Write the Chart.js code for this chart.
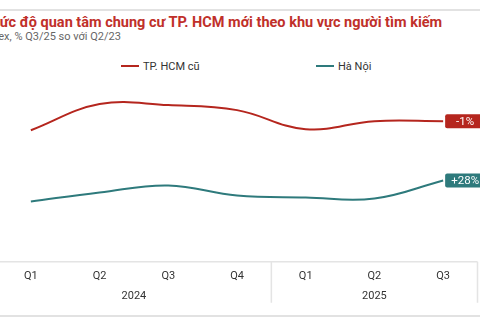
<!DOCTYPE html>
<html>
<head>
<meta charset="utf-8">
<script src="https://cdn.jsdelivr.net/npm/chart.js@4/dist/chart.umd.min.js"></script>
<style>
  html, body { margin: 0; padding: 0; background: #fff; overflow: hidden; }
  body { width: 480px; height: 320px; position: relative; font-family: Roboto, "Noto Sans", sans-serif; }
  .topline { position: absolute; left: 0; top: 9px; width: 480px; height: 2px; background: #e2e2e2; }
  .botline { position: absolute; left: 0; top: 315px; width: 480px; height: 2px; background: #e2e2e2; }
  .title { position: absolute; left: -13px; top: 14px; white-space: nowrap; font-size: 14.5px; font-weight: bold; color: #c0302a; }
  .subtitle { position: absolute; left: -17px; top: 30px; white-space: nowrap; font-size: 11px; color: #666; }
  .legend { position: absolute; top: 60px; left: 0; font-size: 11px; color: #333; }
  .legend span.item { position: absolute; white-space: nowrap; }
  .legend span.mark { display: inline-block; width: 18px; height: 2px; vertical-align: middle; margin-right: 4px; position: relative; top: -1px; }
  #wrap { position: absolute; left: -20px; top: 0; width: 520px; height: 320px; }
</style>
</head>
<body>
<div class="topline"></div>
<div class="title">Mức độ quan tâm chung cư TP. HCM mới theo khu vực người tìm kiếm</div>
<div class="subtitle">Index, % Q3/25 so với Q2/23</div>
<div class="legend" id="legend"></div>
<div id="wrap"><canvas id="chart"></canvas></div>
<div class="botline"></div>
<script>
const quarters = ['Q1', 'Q2', 'Q3', 'Q4', 'Q1', 'Q2', 'Q3'];
const years = ['2024', '2025'];
const yearSpans = [4, 3];
const hcmValues = [65.5, 78.5, 78, 75.5, 66, 70, 70];
const hanoiValues = [30, 34.5, 38, 33, 32, 31.5, 40.5];
const seriesNames = ['TP. HCM cũ', 'Hà Nội'];
const seriesColors = ['#b5261e', '#2e7a7c'];
const endLabels = ['-1%', '+28%'];

// simple html legend
const legendPos = [121, 316];
const legendEl = document.getElementById('legend');
seriesNames.forEach((name, i) => {
    const s = document.createElement('span');
    s.className = 'item';
    s.style.left = legendPos[i] + 'px';
    s.innerHTML = '<span class="mark" style="background:' + seriesColors[i] + '"></span>' + name;
    legendEl.appendChild(s);
});

const extras = {
    id: 'extras',
    afterDatasetsDraw(chart) {
        const ctx = chart.ctx;
        const x = chart.scales.x;
        const area = chart.chartArea;
        ctx.save();
        // axis line + year separators
        ctx.strokeStyle = '#e4e4e4';
        ctx.lineWidth = 1.5;
        ctx.beginPath();
        ctx.moveTo(area.left, area.bottom);
        ctx.lineTo(area.right, area.bottom);
        let idx = 0;
        const bounds = [-0.5];
        yearSpans.forEach(n => { idx += n; bounds.push(idx - 0.5); });
        const step = x.getPixelForValue(1) - x.getPixelForValue(0);
        bounds.forEach(b => {
            const px = x.getPixelForValue(0) + step * b;
            ctx.moveTo(px, area.bottom);
            ctx.lineTo(px, area.bottom + 41);
        });
        ctx.stroke();

        // year labels
        ctx.fillStyle = '#333';
        ctx.font = '11px Roboto';
        ctx.textAlign = 'center';
        ctx.textBaseline = 'middle';
        let start = 0;
        years.forEach((y, i) => {
            const end = start + yearSpans[i] - 1;
            const px = (x.getPixelForValue(start) + x.getPixelForValue(end)) / 2;
            ctx.fillText(y, px, area.bottom + 34);
            start = end + 1;
        });

        // end value tags
        chart.data.datasets.forEach((ds, i) => {
            const meta = chart.getDatasetMeta(i);
            const pt = meta.data[meta.data.length - 1];
            const bx = pt.x + 2, by = pt.y - 7, bw = 40, bh = 14;
            ctx.fillStyle = seriesColors[i];
            ctx.beginPath();
            ctx.roundRect(bx, by, bw, bh, 2);
            ctx.fill();
            ctx.fillStyle = '#fff';
            ctx.font = '11.5px Roboto';
            ctx.fillText(endLabels[i], bx + bw / 2, pt.y + 0.5);
        });
        ctx.restore();
    }
};

new Chart(document.getElementById('chart'), {
    type: 'line',
    data: {
        labels: quarters,
        datasets: [
            { label: seriesNames[0], data: hcmValues, borderColor: seriesColors[0], borderWidth: 2, pointRadius: 0, tension: 0.4 },
            { label: seriesNames[1], data: hanoiValues, borderColor: seriesColors[1], borderWidth: 2, pointRadius: 0, tension: 0.4 }
        ]
    },
    options: {
        responsive: true,
        maintainAspectRatio: false,
        animation: false,
        layout: { padding: { left: 16.5, right: 22.5, top: 81, bottom: 30 } },
        plugins: { legend: { display: false }, tooltip: { enabled: false } },
        scales: {
            x: {
                offset: true,
                grid: { display: false, drawTicks: false },
                border: { display: false },
                ticks: { color: '#333', font: { family: 'Roboto', size: 11 }, padding: 7.5, maxRotation: 0, autoSkip: false }
            },
            y: {
                display: false,
                min: 0,
                max: 90
            }
        }
    },
    plugins: [extras]
});
</script>
</body>
</html>
